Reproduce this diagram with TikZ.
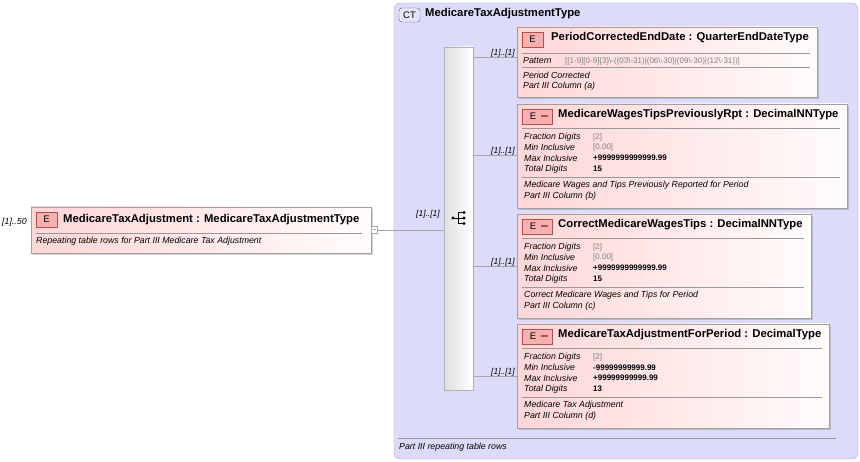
\documentclass[tikz,border=0pt]{standalone}
\usepackage{fontspec}
\setmainfont{Liberation Sans}
\usetikzlibrary{shadows}
\definecolor{ctfill}{HTML}{DCDCFA}
\definecolor{ctborder}{HTML}{A8A8C0}
\definecolor{efill}{HTML}{FFD6D6}
\definecolor{eborder}{HTML}{A0A0A0}
\definecolor{badge}{HTML}{F6B0B0}
\definecolor{bred}{HTML}{B05050}
\definecolor{gtext}{HTML}{808080}
\tikzset{x=1pt,y=-1pt,
 elem/.style={draw=eborder,left color=efill,right color=white!92!efill,drop shadow={shadow xshift=2pt,shadow yshift=-2pt,opacity=0.35}},
 bdg/.style={draw=bred,fill=badge,inner sep=0pt},
 ttl/.style={anchor=west,inner sep=0pt,font=\fontsize{11.3}{12}\selectfont\bfseries},
 ital/.style={anchor=west,inner sep=0pt,font=\fontsize{8.8}{9}\selectfont\itshape},
 val/.style={anchor=west,inner sep=0pt,font=\fontsize{8}{9}\selectfont\bfseries},
 gval/.style={anchor=west,inner sep=0pt,font=\fontsize{8}{9}\selectfont,text=gtext},
 sep/.style={draw=gray!80},
 conn/.style={draw=gray!70},
 mult/.style={anchor=south east,inner sep=1pt,font=\fontsize{8.5}{9}\selectfont\itshape}}
\newcommand{\ebadge}[3]{% x y dash
 \draw[bdg] (#1,#2) rectangle ++(#3,15);
 \node[inner sep=0pt,font=\fontsize{9.5}{10}\selectfont,text=black] at (#1+10.5,#2+7.5) {E};
}
\begin{document}
\begin{tikzpicture}
\useasboundingbox (0,0) rectangle (860,462);
% CT box
\draw[draw=ctborder,fill=ctfill,rounded corners=6pt] (394,3) rectangle (858,459);
\draw[draw=gray!70!blue,fill=ctfill!70!white,rounded corners=3pt] (399,8) rectangle (420,22);
\node[inner sep=0pt,font=\fontsize{9.5}{10}\selectfont] at (409.5,15) {CT};
\node[ttl] (ct) at (425,14) {MedicareTaxAdjustmentType};
\draw[sep] (398,438) -- (836,438);
\node[ital] (ctd) at (399,447) {Part III repeating table rows};
% sequence bar
\node[draw=gray!60,left color=gray!25,right color=white,minimum width=29pt,minimum height=343pt,inner sep=0pt] (seq) at (458.5,218.5) {};
\fill (453,218) circle (1.6);
\draw (453,218) -- (458,218) (458,212.5) -- (458,223.5) (458,212.5)--(464,212.5) (458,218)--(464,218) (458,223.5)--(464,223.5);
\foreach \yy in {212.5,218,223.5} \fill (464,\yy) circle (1.6);
% main element
\node[elem,minimum width=340pt,minimum height=46pt,inner sep=0pt] (main) at (201,230) {};
\ebadge{36}{212}{21}
\node[ttl] (mt) at (63,220) {MedicareTaxAdjustment : MedicareTaxAdjustmentType};
\draw[sep] (36,233) -- (362,233);
\node[ital] at (36,241) {Repeating table rows for Part III Medicare Tax Adjustment};
\node[ital] at (2,222) {[1]..50};
\draw[draw=gray!70,fill=white] (371,226) rectangle (377,233);
\draw[gray!70] (372.5,229.5) -- (375.5,229.5);
\coordinate (mo) at (377,230);
\draw[conn] (mo) -- (seq.west |- mo);
\node[mult] at (441,219) {[1]..[1]};
% children connectors
\draw[conn] (473,57) -- (517,57);
\draw[conn] (473,155) -- (517,155);
\draw[conn] (473,266) -- (517,266);
\draw[conn] (473,376) -- (517,376);
\foreach \yy in {57,155,266,376} \node[mult] at (516,\yy+1) {[1]..[1]};
% child 1
\node[elem,minimum width=300pt,minimum height=70pt,inner sep=0pt] (c1) at (667,62) {};
\ebadge{522}{32}{21}
\node[ttl] at (551,38) {PeriodCorrectedEndDate : QuarterEndDateType};
\draw[sep] (522,53) -- (810,53);
\node[ital] at (523,61) {Pattern};
\node[gval] at (565,61) {[[1-9][0-9]\{3\}\textbackslash-((03\textbackslash-31)|(06\textbackslash-30)|(09\textbackslash-30)|(12\textbackslash-31))]};
\draw[sep] (522,67) -- (810,67);
\node[ital] at (523,75) {Period Corrected};
\node[ital] at (523,86) {Part III Column (a)};
% generic facet child
\newcommand{\facchild}[9]{% #1 top y, #2 right x, #3 title, #4 frac, #5 min, #6 max, #7 total, #8 desc1, #9 desc2
 \node[elem,minimum width=#2pt-517pt,minimum height=104pt,inner sep=0pt] at ({(517+#2)/2},#1+52) {};
 \draw[bdg] (522,#1+5) rectangle ++(30,15);
 \node[inner sep=0pt,font=\fontsize{9.5}{10}\selectfont] at (533,#1+12.5) {E};
 \fill[bred] (541,#1+11.5) rectangle (548,#1+13.5);
 \node[ttl] at (558,#1+11) {#3};
 \draw[sep] (522,#1+24) -- (#2-7,#1+24);
 \node[ital] at (524,#1+33) {Fraction Digits};
 \node[ital] at (524,#1+43.5) {Min Inclusive};
 \node[ital] at (524,#1+54) {Max Inclusive};
 \node[ital] at (524,#1+65) {Total Digits};
 \node[gval] at (593,#1+33) {#4};
 #5
 \node[val] at (593,#1+54) {#6};
 \node[val] at (593,#1+65) {#7};
 \draw[sep] (522,#1+73) -- (#2-7,#1+73);
 \node[ital] at (524,#1+81) {#8};
 \node[ital] at (524,#1+92) {#9};
}
\facchild{104}{847}{MedicareWagesTipsPreviouslyRpt : DecimalNNType}{[2]}{\node[gval] at (593,147.5) {[0.00]};}{+9999999999999.99}{15}{Medicare Wages and Tips Previously Reported for Period}{Part III Column (b)}
\facchild{214}{811}{CorrectMedicareWagesTips : DecimalNNType}{[2]}{\node[gval] at (593,257.5) {[0.00]};}{+9999999999999.99}{15}{Correct Medicare Wages and Tips for Period}{Part III Column (c)}
\facchild{324}{829}{MedicareTaxAdjustmentForPeriod : DecimalType}{[2]}{\node[val] at (593,367.5) {-99999999999.99};}{+99999999999.99}{13}{Medicare Tax Adjustment}{Part III Column (d)}
\end{tikzpicture}
\end{document}
